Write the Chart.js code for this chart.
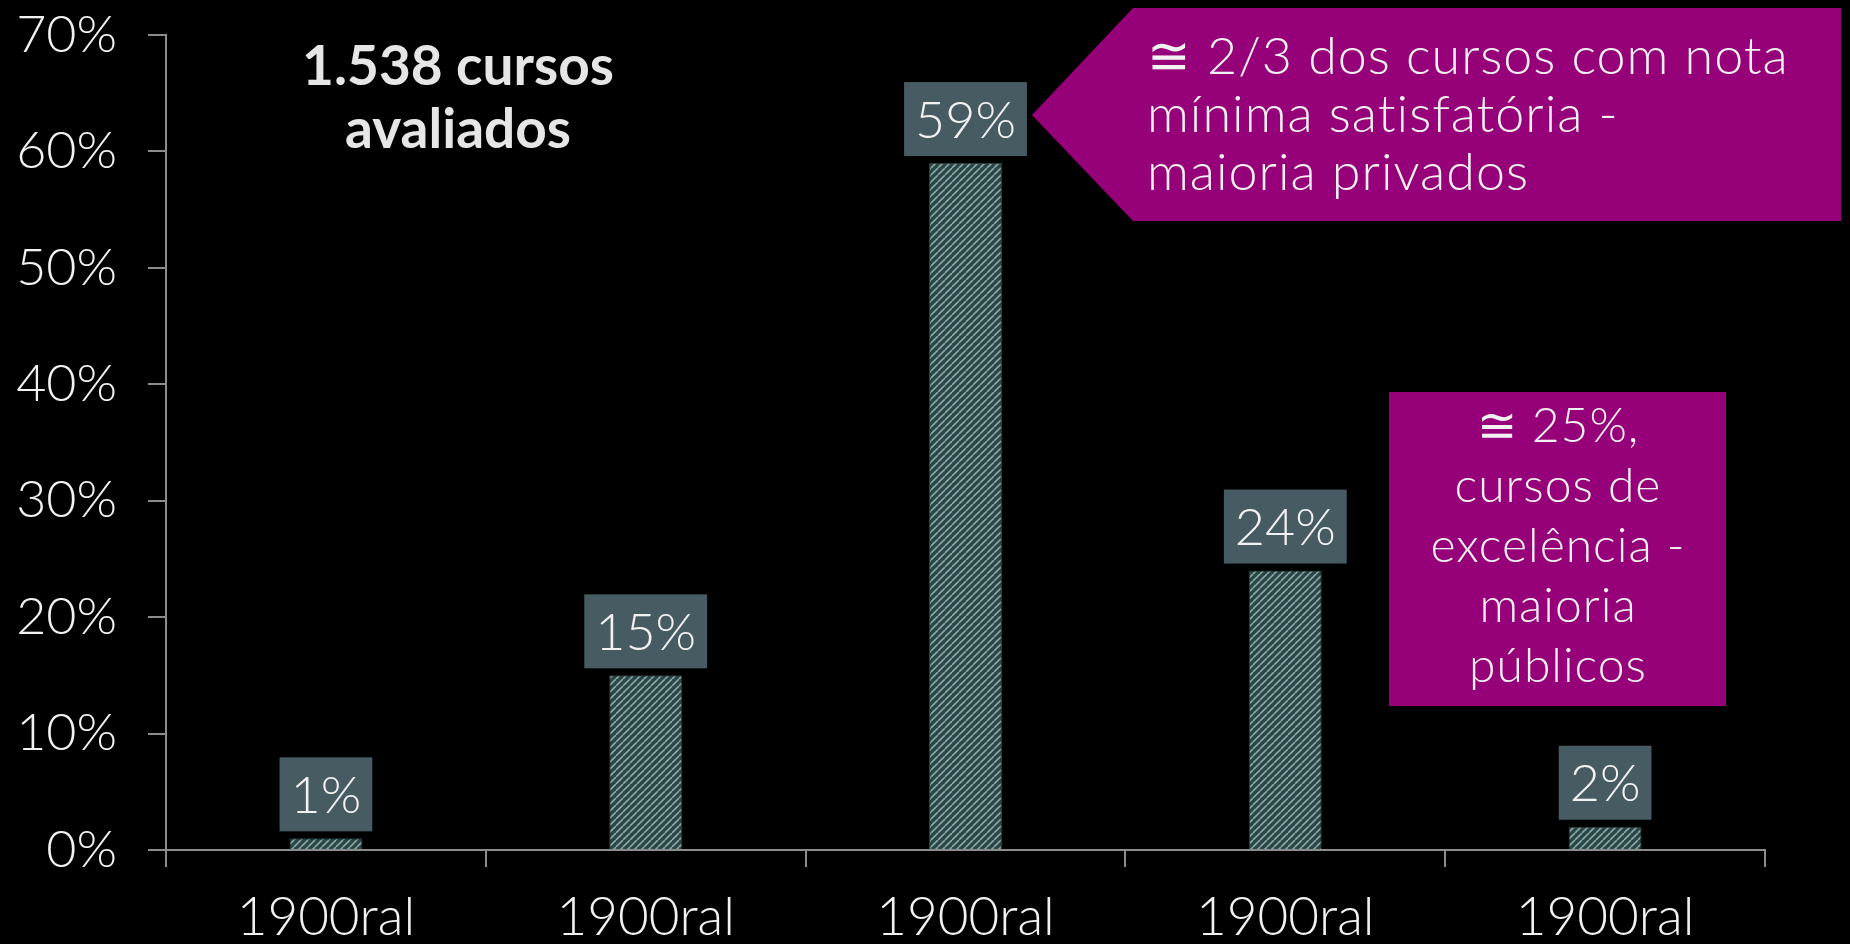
<!DOCTYPE html>
<html><head><meta charset="utf-8">
<script src="https://cdn.jsdelivr.net/npm/chart.js@4/dist/chart.umd.min.js"></script>
<style>html,body{margin:0;padding:0;background:#000;overflow:hidden}#wrap{width:1850px;height:944px}</style>
</head><body><div id="wrap"><canvas id="c" width="1850" height="944"></canvas></div>
<script>
// ---- data ----
const categories = ['1900ral', '1900ral', '1900ral', '1900ral', '1900ral'];
const values = [1, 15, 59, 24, 2];
const yMin = 0, yMax = 70, yStep = 10;
const titleLines = ['1.538 cursos', 'avaliados'];
const callout1Lines = ['\u2245 2/3 dos cursos com nota', 'mínima satisfatória -', 'maioria privados'];
const callout2Lines = ['\u2245 25%,', 'cursos de', 'excelência -', 'maioria', 'públicos'];
const callout1Bar = 2;

// ---- styles ----
const FONT = 'Lato, "Open Sans", sans-serif';
const AXIS = '#8c8c8c';
const TXT = '#f2f2f2';
const MAGENTA = '#960078';
const BOX = '#465b62';

function makePattern() {
  const s = 7;
  const c = document.createElement('canvas');
  c.width = s; c.height = s;
  const x = c.getContext('2d');
  x.fillStyle = '#2c4646';
  x.fillRect(0, 0, s, s);
  x.strokeStyle = '#86a9a7';
  x.lineWidth = 1.6;
  x.beginPath();
  for (const o of [-s, 0, s]) { x.moveTo(o, s); x.lineTo(o + s, 0); }
  x.stroke();
  return x.createPattern(c, 'repeat');
}

const bgPlugin = {
  id: 'bg',
  beforeDraw(chart) {
    const ctx = chart.ctx;
    ctx.save(); ctx.fillStyle = '#000'; ctx.fillRect(0, 0, chart.width, chart.height); ctx.restore();
  }
};

const labelBoxes = {
  id: 'labelBoxes',
  afterDatasetsDraw(chart) {
    const ctx = chart.ctx;
    const meta = chart.getDatasetMeta(0);
    ctx.save();
    ctx.font = '300 52px ' + FONT;
    chart.$boxes = [];
    meta.data.forEach((bar, i) => {
      const t = values[i] + '%';
      const w = ctx.measureText(t).width + 22;
      const h = 74;
      const bottom = bar.y - 7;
      const left = bar.x - w / 2;
      ctx.fillStyle = BOX;
      ctx.fillRect(left, bottom - h, w, h);
      ctx.fillStyle = TXT;
      ctx.textAlign = 'center';
      ctx.textBaseline = 'middle';
      ctx.fillText(t, bar.x, bottom - h / 2 + 2);
      chart.$boxes.push({ left, right: left + w, top: bottom - h, bottom });
    });
    ctx.restore();
  }
};

const annotations = {
  id: 'annotations',
  afterDraw(chart) {
    const ctx = chart.ctx;
    ctx.save();
    // title text
    ctx.fillStyle = '#e6e6e6';
    ctx.font = 'bold 55px ' + FONT;
    ctx.textAlign = 'center';
    ctx.textBaseline = 'alphabetic';
    ctx.fillText(titleLines[0], 458, 85);
    ctx.fillText(titleLines[1], 458, 148);

    // callout 1 (arrow pointing to bar label)
    const b = chart.$boxes[callout1Bar];
    const tipX = b.right + 5, tipY = (b.top + b.bottom) / 2 - 4;
    ctx.fillStyle = MAGENTA;
    ctx.beginPath();
    ctx.moveTo(tipX, tipY);
    ctx.lineTo(1133, 8);
    ctx.lineTo(1841, 8);
    ctx.lineTo(1841, 221);
    ctx.lineTo(1133, 221);
    ctx.closePath();
    ctx.fill();
    ctx.fillStyle = TXT;
    ctx.font = '300 52px ' + FONT;
    ctx.letterSpacing = '1px';
    ctx.textAlign = 'left';
    callout1Lines.forEach((l, i) => ctx.fillText(l, 1147, 74 + i * 58));

    // callout 2
    ctx.fillStyle = MAGENTA;
    ctx.fillRect(1389, 392, 337, 314);
    ctx.fillStyle = TXT;
    ctx.font = '300 48px ' + FONT;
    ctx.letterSpacing = '1px';
    ctx.textAlign = 'center';
    callout2Lines.forEach((l, i) => ctx.fillText(l, 1558, 442 + i * 60));
    ctx.restore();
  }
};

const ctx = document.getElementById('c').getContext('2d');
new Chart(ctx, {
  type: 'bar',
  data: {
    labels: categories,
    datasets: [{
      data: values,
      backgroundColor: makePattern(),
      borderColor: '#2a3f40',
      borderWidth: 1,
      borderSkipped: 'bottom',
      categoryPercentage: 1,
      barPercentage: 0.228
    }]
  },
  options: {
    responsive: false,
    animation: false,
    devicePixelRatio: 1,
    layout: { padding: { left: 0, right: 85, top: 35, bottom: 0 } },
    plugins: { legend: { display: false }, tooltip: { enabled: false }, title: { display: false } },
    scales: {
      x: {
        afterFit(s) { s.height = 94; s.paddingLeft = 0; s.paddingRight = 0; },
        grid: { display: true, drawOnChartArea: false, drawTicks: true, tickLength: 17, color: AXIS, lineWidth: 2, offset: true },
        border: { display: true, color: AXIS, width: 2 },
        ticks: { color: TXT, font: { family: FONT, size: 53, weight: 300 }, padding: 19, maxRotation: 0, autoSkip: false }
      },
      y: {
        min: yMin, max: yMax,
        afterFit(s) { s.width = 166; s.paddingTop = 0; s.paddingBottom = 0; },
        grid: { display: true, drawOnChartArea: false, drawTicks: true, tickLength: 18, color: AXIS, lineWidth: 2 },
        border: { display: true, color: AXIS, width: 2 },
        ticks: { stepSize: yStep, color: TXT, font: { family: FONT, size: 52, weight: 300 }, padding: 31, callback: v => v + '%' }
      }
    }
  },
  plugins: [bgPlugin, labelBoxes, annotations]
});
</script>
</body></html>
